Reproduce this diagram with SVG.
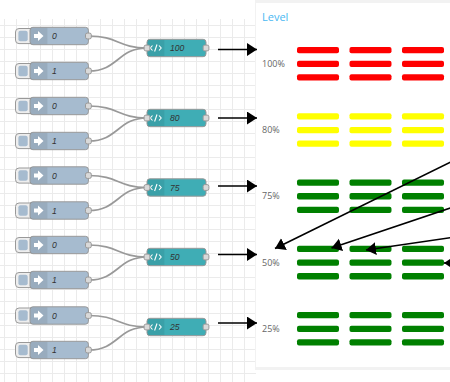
<svg xmlns="http://www.w3.org/2000/svg" width="450" height="382" viewBox="0 0 450 382">
<defs>
<pattern id="grid" x="4" y="1" width="12" height="12" patternUnits="userSpaceOnUse">
<path d="M0.5,0 V12 M0,0.5 H12" fill="none" stroke="#ebebeb" stroke-width="1"/>
</pattern>
<marker id="ah" markerUnits="userSpaceOnUse" markerWidth="11" markerHeight="14" refX="10" refY="6.5" orient="auto">
<path d="M0,0 L10,6.5 L0,13 z" fill="#000"/>
</marker>
<g id="inj">
<rect x="15.5" y="-7.5" width="18.6" height="15.1" rx="3.5" fill="#eeeeee" stroke="#999" stroke-width="1"/>
<rect x="18.4" y="-5.2" width="9.3" height="10.4" rx="2" fill="#a6bbcf"/>
<rect x="30" y="-8.7" width="58.4" height="17.4" rx="2.9" fill="#a6bbcf" stroke="#999" stroke-width="1"/>
<path d="M30.5,-8.2 H47.4 V8.2 H30.5 z" fill="#000" fill-opacity="0.08"/>
<path d="M34,-2 H38 V-5 L43.5,0 L38,5 V2 H34 z" fill="#fff"/>
<rect x="85.5" y="-2.9" width="5.8" height="5.8" rx="1.7" fill="#d9d9d9" stroke="#999" stroke-width="1"/>
</g>
<g id="tpl">
<rect x="147" y="-8.7" width="59" height="17.4" rx="2.9" fill="#3fadb5" stroke="#999" stroke-width="1"/>
<path d="M147.5,-8.2 H164.4 V8.2 H147.5 z" fill="#000" fill-opacity="0.07"/>
<path d="M152.5,-2.5 L150.3,0 L152.5,2.5 M157,-3.5 L154.6,3.5 M159,-2.5 L161.2,0 L159,2.5" fill="none" stroke="#fff" stroke-width="1.1"/>
<rect x="144.1" y="-2.9" width="5.8" height="5.8" rx="1.7" fill="#d9d9d9" stroke="#999" stroke-width="1"/>
<rect x="203.1" y="-2.9" width="5.8" height="5.8" rx="1.7" fill="#d9d9d9" stroke="#999" stroke-width="1"/>
</g>
</defs>
<style>
.lbl{font-family:"Liberation Sans",Arial,sans-serif;font-size:8.6px;font-style:italic;fill:#333}
.pct{font-family:"Open Sans","Liberation Sans",sans-serif;font-size:9px;fill:#666}
.wire{fill:none;stroke:#999;stroke-width:1.7}
.arr{fill:none;stroke:#000;stroke-width:1.6;marker-end:url(#ah)}
.red{fill:#ff0000}.yel{fill:#ffff00}.grn{fill:#008000}
</style>
<rect width="450" height="382" fill="#fff"/>
<rect x="0" y="19" width="256" height="363" fill="url(#grid)"/>
<rect x="255" y="0" width="195" height="370" fill="#f2f2f2"/>
<rect x="256" y="3" width="194" height="364" fill="#fff"/>

<g id="connectors">
<path class="wire" d="M89,36 C118,36 118,48 147,48"/>
<path class="wire" d="M89,71 C118,71 118,48 147,48"/>
<path class="wire" d="M89,106 C118,106 118,118 147,118"/>
<path class="wire" d="M89,141 C118,141 118,118 147,118"/>
<path class="wire" d="M89,175.5 C118,175.5 118,187.5 147,187.5"/>
<path class="wire" d="M89,210.5 C118,210.5 118,187.5 147,187.5"/>
<path class="wire" d="M89,245 C118,245 118,257 147,257"/>
<path class="wire" d="M89,280 C118,280 118,257 147,257"/>
<path class="wire" d="M89,315.5 C118,315.5 118,327 147,327"/>
<path class="wire" d="M89,350 C118,350 118,327 147,327"/>
<path class="arr" d="M218,49.5 H257"/>
<path class="arr" d="M218,118 H257"/>
<path class="arr" d="M218,186 H257"/>
<path class="arr" d="M218,254.5 H257"/>
<path class="arr" d="M218,323 H257"/>
</g>

<g id="inject-100-0" transform="translate(0,36)"><use href="#inj"/><text class="lbl" x="52" y="3">0</text></g>
<g id="inject-100-1" transform="translate(0,71)"><use href="#inj"/><text class="lbl" x="52" y="3">1</text></g>
<g id="template-100" transform="translate(0,48)"><use href="#tpl"/><text class="lbl" x="170" y="3">100</text></g>

<g id="inject-80-0" transform="translate(0,106)"><use href="#inj"/><text class="lbl" x="52" y="3">0</text></g>
<g id="inject-80-1" transform="translate(0,141)"><use href="#inj"/><text class="lbl" x="52" y="3">1</text></g>
<g id="template-80" transform="translate(0,118)"><use href="#tpl"/><text class="lbl" x="170" y="3">80</text></g>

<g id="inject-75-0" transform="translate(0,175.5)"><use href="#inj"/><text class="lbl" x="52" y="3">0</text></g>
<g id="inject-75-1" transform="translate(0,210.5)"><use href="#inj"/><text class="lbl" x="52" y="3">1</text></g>
<g id="template-75" transform="translate(0,187.5)"><use href="#tpl"/><text class="lbl" x="170" y="3">75</text></g>

<g id="inject-50-0" transform="translate(0,245)"><use href="#inj"/><text class="lbl" x="52" y="3">0</text></g>
<g id="inject-50-1" transform="translate(0,280)"><use href="#inj"/><text class="lbl" x="52" y="3">1</text></g>
<g id="template-50" transform="translate(0,257)"><use href="#tpl"/><text class="lbl" x="170" y="3">50</text></g>

<g id="inject-25-0" transform="translate(0,315.5)"><use href="#inj"/><text class="lbl" x="52" y="3">0</text></g>
<g id="inject-25-1" transform="translate(0,350)"><use href="#inj"/><text class="lbl" x="52" y="3">1</text></g>
<g id="template-25" transform="translate(0,327)"><use href="#tpl"/><text class="lbl" x="170" y="3">25</text></g>

<g id="title"><text x="262" y="21" font-family="'Open Sans','Liberation Sans',sans-serif" font-size="11" fill="#4ab8f2">Level</text></g>

<g id="level-100" transform="translate(0,47)">
<text class="pct" x="262" y="20">100%</text>
<g class="red">
<rect x="297" y="0" width="42" height="6.3" rx="2"/><rect x="349.5" y="0" width="42" height="6.3" rx="2"/><rect x="402" y="0" width="42" height="6.3" rx="2"/>
<rect x="297" y="13.7" width="42" height="6.3" rx="2"/><rect x="349.5" y="13.7" width="42" height="6.3" rx="2"/><rect x="402" y="13.7" width="42" height="6.3" rx="2"/>
<rect x="297" y="27.3" width="42" height="6.3" rx="2"/><rect x="349.5" y="27.3" width="42" height="6.3" rx="2"/><rect x="402" y="27.3" width="42" height="6.3" rx="2"/>
</g></g>
<g id="level-80" transform="translate(0,113.2)">
<text class="pct" x="262" y="20">80%</text>
<g class="yel">
<rect x="297" y="0" width="42" height="6.3" rx="2"/><rect x="349.5" y="0" width="42" height="6.3" rx="2"/><rect x="402" y="0" width="42" height="6.3" rx="2"/>
<rect x="297" y="13.7" width="42" height="6.3" rx="2"/><rect x="349.5" y="13.7" width="42" height="6.3" rx="2"/><rect x="402" y="13.7" width="42" height="6.3" rx="2"/>
<rect x="297" y="27.3" width="42" height="6.3" rx="2"/><rect x="349.5" y="27.3" width="42" height="6.3" rx="2"/><rect x="402" y="27.3" width="42" height="6.3" rx="2"/>
</g></g>
<g id="level-75" transform="translate(0,179.4)">
<text class="pct" x="262" y="20">75%</text>
<g class="grn">
<rect x="297" y="0" width="42" height="6.3" rx="2"/><rect x="349.5" y="0" width="42" height="6.3" rx="2"/><rect x="402" y="0" width="42" height="6.3" rx="2"/>
<rect x="297" y="13.7" width="42" height="6.3" rx="2"/><rect x="349.5" y="13.7" width="42" height="6.3" rx="2"/><rect x="402" y="13.7" width="42" height="6.3" rx="2"/>
<rect x="297" y="27.3" width="42" height="6.3" rx="2"/><rect x="349.5" y="27.3" width="42" height="6.3" rx="2"/><rect x="402" y="27.3" width="42" height="6.3" rx="2"/>
</g></g>
<g id="level-50" transform="translate(0,245.8)">
<text class="pct" x="262" y="20">50%</text>
<g class="grn">
<rect x="297" y="0" width="42" height="6.3" rx="2"/><rect x="349.5" y="0" width="42" height="6.3" rx="2"/><rect x="402" y="0" width="42" height="6.3" rx="2"/>
<rect x="297" y="13.7" width="42" height="6.3" rx="2"/><rect x="349.5" y="13.7" width="42" height="6.3" rx="2"/><rect x="402" y="13.7" width="42" height="6.3" rx="2"/>
<rect x="297" y="27.3" width="42" height="6.3" rx="2"/><rect x="349.5" y="27.3" width="42" height="6.3" rx="2"/><rect x="402" y="27.3" width="42" height="6.3" rx="2"/>
</g></g>
<g id="level-25" transform="translate(0,312)">
<text class="pct" x="262" y="20">25%</text>
<g class="grn">
<rect x="297" y="0" width="42" height="6.3" rx="2"/><rect x="349.5" y="0" width="42" height="6.3" rx="2"/><rect x="402" y="0" width="42" height="6.3" rx="2"/>
<rect x="297" y="13.7" width="42" height="6.3" rx="2"/><rect x="349.5" y="13.7" width="42" height="6.3" rx="2"/><rect x="402" y="13.7" width="42" height="6.3" rx="2"/>
<rect x="297" y="27.3" width="42" height="6.3" rx="2"/><rect x="349.5" y="27.3" width="42" height="6.3" rx="2"/><rect x="402" y="27.3" width="42" height="6.3" rx="2"/>
</g></g>

<g id="overlay-arrows">
<path class="arr" d="M452,161.5 L275,248.5"/>
<path class="arr" d="M452,207.5 L331.5,248"/>
<path class="arr" d="M452,237.5 L366,250"/>
<path class="arr" d="M462,263 L444,263"/>
</g>
</svg>
